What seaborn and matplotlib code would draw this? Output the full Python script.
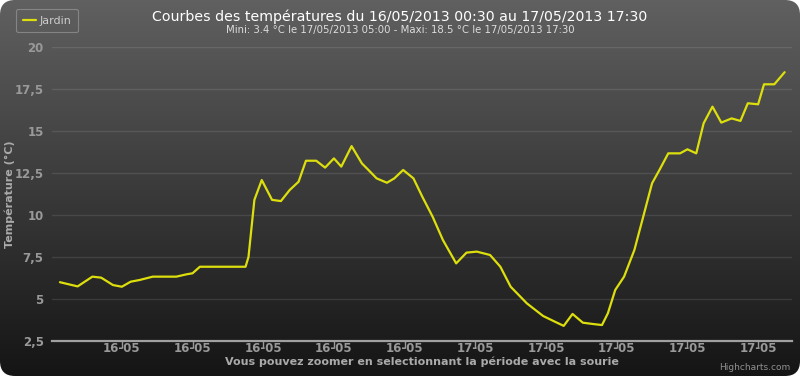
import numpy as np
import pandas as pd
import matplotlib
matplotlib.use("Agg")
import matplotlib.pyplot as plt
import matplotlib.dates as mdates
from matplotlib.patches import FancyBboxPatch
from matplotlib.ticker import FuncFormatter, FixedLocator
import seaborn as sns

# ---------------- data ----------------
times = [
    "2013-05-16 00:30", "2013-05-16 01:30", "2013-05-16 02:20", "2013-05-16 02:50",
    "2013-05-16 03:30", "2013-05-16 04:00", "2013-05-16 04:30", "2013-05-16 05:00",
    "2013-05-16 05:45", "2013-05-16 07:05", "2013-05-16 07:40", "2013-05-16 08:00",
    "2013-05-16 08:25", "2013-05-16 11:00", "2013-05-16 11:10", "2013-05-16 11:30",
    "2013-05-16 11:55", "2013-05-16 12:30", "2013-05-16 13:00", "2013-05-16 13:30",
    "2013-05-16 14:00", "2013-05-16 14:25", "2013-05-16 15:00", "2013-05-16 15:30",
    "2013-05-16 16:00", "2013-05-16 16:25", "2013-05-16 17:00", "2013-05-16 17:35",
    "2013-05-16 17:55", "2013-05-16 18:25", "2013-05-16 19:00", "2013-05-16 19:25",
    "2013-05-16 19:55", "2013-05-16 20:30", "2013-05-16 21:00", "2013-05-16 21:35",
    "2013-05-16 22:10", "2013-05-16 22:55", "2013-05-16 23:30", "2013-05-17 00:05",
    "2013-05-17 00:50", "2013-05-17 01:25", "2013-05-17 02:00", "2013-05-17 02:55",
    "2013-05-17 03:50", "2013-05-17 04:30", "2013-05-17 05:00", "2013-05-17 05:30",
    "2013-05-17 06:05", "2013-05-17 06:40", "2013-05-17 07:10", "2013-05-17 07:30",
    "2013-05-17 07:55", "2013-05-17 08:25", "2013-05-17 09:00", "2013-05-17 09:30",
    "2013-05-17 10:00", "2013-05-17 10:25", "2013-05-17 10:55", "2013-05-17 11:35",
    "2013-05-17 12:00", "2013-05-17 12:30", "2013-05-17 12:55", "2013-05-17 13:25",
    "2013-05-17 13:55", "2013-05-17 14:30", "2013-05-17 15:00", "2013-05-17 15:25",
    "2013-05-17 16:00", "2013-05-17 16:20", "2013-05-17 16:55", "2013-05-17 17:30",
]
temps = [
    6.0, 5.75, 6.33, 6.27,
    5.83, 5.73, 6.03, 6.13,
    6.33, 6.33, 6.47, 6.53,
    6.92, 6.92, 7.5, 10.9,
    12.08, 10.9, 10.83, 11.49,
    11.98, 13.23, 13.23, 12.82,
    13.37, 12.88, 14.1, 13.07,
    12.72, 12.18, 11.92, 12.18,
    12.68, 12.18, 11.09, 9.9,
    8.51, 7.12, 7.76, 7.82,
    7.62, 6.92, 5.73, 4.74,
    3.99, 3.65, 3.4, 4.11,
    3.59, 3.51, 3.45, 4.15,
    5.54, 6.33, 7.92, 9.9,
    11.89, 12.68, 13.67, 13.67,
    13.91, 13.67, 15.46, 16.45,
    15.5, 15.75, 15.6, 16.65,
    16.59, 17.78, 17.78, 18.5,
]
series_name = "Jardin"
y_ticks = [2.5, 5, 7.5, 10, 12.5, 15, 17.5, 20]
title = "Courbes des températures du 16/05/2013 00:30 au 17/05/2013 17:30"
subtitle = "Mini: 3.4 °C le 17/05/2013 05:00 - Maxi: 18.5 °C le 17/05/2013 17:30"
y_label = "Température (°C)"
x_label = "Vous pouvez zoomer en selectionnant la période avec la sourie"
credit = "Highcharts.com"

df = pd.DataFrame({"time": pd.to_datetime(times), "temp": temps, "serie": series_name})

# ---------------- figure ----------------
W, H = 800, 376
fig = plt.figure(figsize=(W / 100, H / 100), dpi=100)
fig.patch.set_facecolor("white")

# background with gradient and rounded corners
bg = fig.add_axes([0, 0, 1, 1], zorder=0)
bg.set_xlim(0, W)
bg.set_ylim(H, 0)
bg.axis("off")
g = np.linspace(0, 1, 256)[:, None] * (H / 400.0)
top = np.array([96, 96, 96]) / 255.0
bot = np.array([16, 16, 16]) / 255.0
grad = top[None, None, :] * (1 - g[..., None]) + bot[None, None, :] * g[..., None]
grad = np.repeat(grad, 2, axis=1)
im = bg.imshow(grad, extent=[0, W, H, 0], aspect="auto", interpolation="bilinear")
clip = FancyBboxPatch((0, 0), W, H, boxstyle="round,pad=0,rounding_size=15",
                      transform=bg.transData, facecolor="none", edgecolor="none")
bg.add_patch(clip)
im.set_clip_path(clip)

# plot area
L, R, T, B = 52, 792, 47, 341
ax = fig.add_axes([L / W, 1 - B / H, (R - L) / W, (B - T) / H], zorder=1)
ax.patch.set_alpha(0)

sns.lineplot(data=df, x="time", y="temp", ax=ax, color="#DDDF0D", linewidth=1.6,
             label=series_name, solid_joinstyle="round", solid_capstyle="round")

ax.set_ylim(2.5, 20)
ax.set_xlim(pd.Timestamp("2013-05-16 00:03"), pd.Timestamp("2013-05-17 17:55"))

ax.yaxis.set_major_locator(FixedLocator(y_ticks))
ax.yaxis.set_major_formatter(FuncFormatter(lambda v, p: f"{v:g}".replace(".", ",")))
ax.xaxis.set_major_locator(mdates.HourLocator(byhour=[0, 4, 8, 12, 16, 20]))
ax.xaxis.set_major_formatter(mdates.DateFormatter("%d-%m"))

for s in ["top", "right", "left"]:
    ax.spines[s].set_visible(False)
ax.spines["bottom"].set_color("#a0a0a0")
ax.spines["bottom"].set_linewidth(1.6)

ax.grid(axis="y", color="#ffffff", alpha=0.1, linewidth=1)
ax.grid(axis="x", visible=False)
ax.set_axisbelow(True)

ax.tick_params(axis="y", length=0, pad=6, labelcolor="#999999", labelsize=8.5)
ax.tick_params(axis="x", length=5, width=1, color="#999999", pad=-4.5,
               labelcolor="#999999", labelsize=8.5)
for lab in ax.get_xticklabels() + ax.get_yticklabels():
    lab.set_fontweight("bold")
ax.set_xlabel("")
ax.set_ylabel("")

# legend
leg = ax.legend(loc="upper left", bbox_to_anchor=(16 / W, 1 - 9 / H),
                bbox_transform=fig.transFigure, frameon=True, fontsize=8,
                handlelength=1.2, handletextpad=0.3, borderpad=0.6,
                borderaxespad=0, labelcolor="#cccccc", fancybox=True)
leg.get_frame().set_facecolor("none")
leg.get_frame().set_edgecolor("#909090")
leg.get_frame().set_linewidth(0.8)

# texts
fig.text(400 / W, 1 - 17 / H, title, ha="center", va="center", color="#ffffff", fontsize=10.2)
fig.text(400 / W, 1 - 30 / H, subtitle, ha="center", va="center", color="#dddddd", fontsize=7.3)
fig.text(10 / W, 1 - 194 / H, y_label, ha="center", va="center", rotation=90,
         color="#aaaaaa", fontsize=8, fontweight="bold")
fig.text(422 / W, 1 - 362 / H, x_label, ha="center", va="center",
         color="#aaaaaa", fontsize=8.0, fontweight="bold")
fig.text(790 / W, 1 - 367 / H, credit, ha="right", va="center", color="#909090", fontsize=6.5)

fig.savefig("out.png", dpi=100, facecolor=fig.get_facecolor())
